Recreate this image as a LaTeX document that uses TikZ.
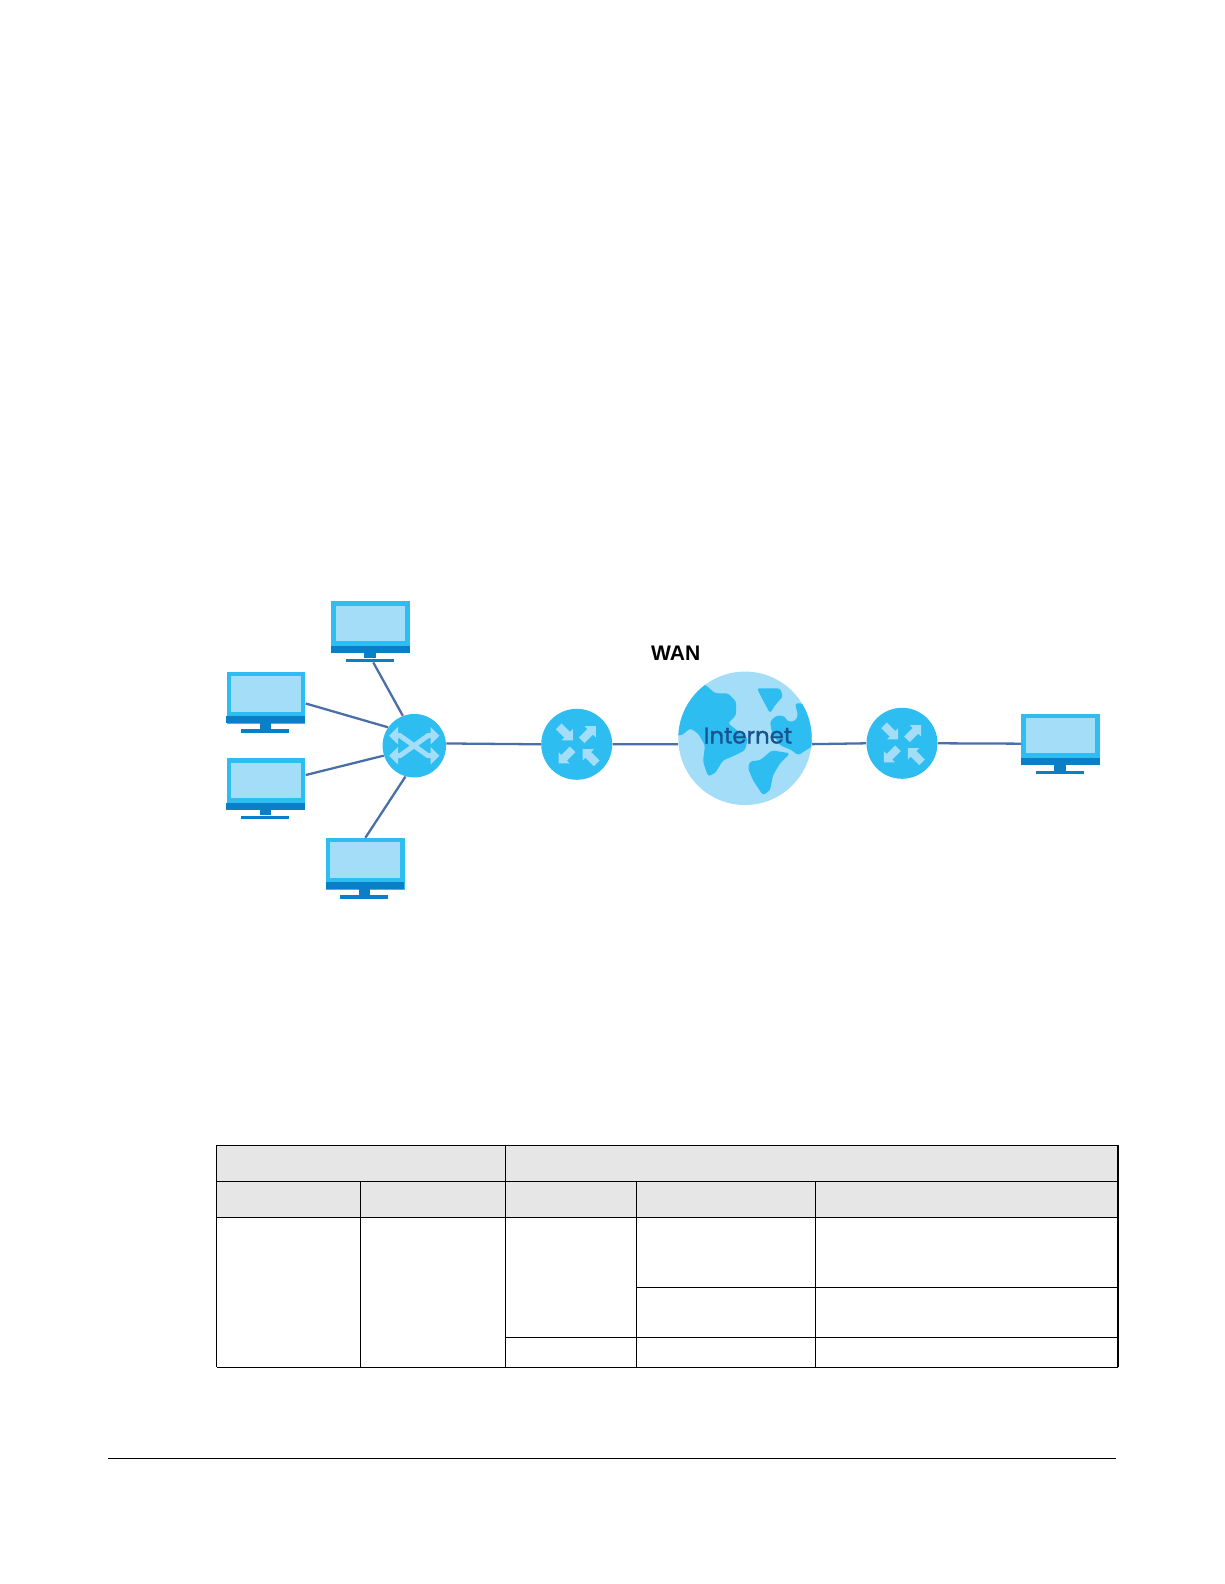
\documentclass[tikz,border=0pt]{standalone}
\usepackage{fontspec}
\usepackage{xcolor}
\usepackage{tikz}
\usetikzlibrary{arrows.meta}
\newfontfamily\wanfont{Liberation Sans}
\newfontfamily\netfont[FakeBold=1.2]{Poppins}
\definecolor{netbright}{HTML}{2DBDF1}
\definecolor{netpale}{HTML}{A4DDF8}
\definecolor{netdark}{HTML}{0A7FC8}
\definecolor{netline}{HTML}{4A6FA8}
\definecolor{nettext}{HTML}{17548F}
\definecolor{tblgray}{HTML}{E6E6E6}
\tikzset{
    net screen/.style={fill=netpale},
    net dark/.style={fill=netdark},
    net body/.style={
        fill=netbright,
        inner sep=0pt,
        minimum width=1.574cm,
        minimum height=1.034cm
    },
    net round/.style={
        circle,
        fill=netbright,
        inner sep=0pt
    },
    net link/.style={draw=netline, line width=1.3pt},
    net swarrow/.style={
        {Triangle[length=0.18cm,width=0.34cm]}-{Triangle[length=0.18cm,width=0.34cm]},
        draw=netpale,
        line width=0.1cm
    },
    tbl line/.style={draw=black, line width=0.6pt},
    monitor/.pic={
        \node[net body, anchor=north west] (-body) at (0,0) {};
        \fill[net screen] (4.7,4.7) rectangle (74.3,40);
        \fill[net dark] (0,44.7) rectangle (78.7,51.7);
        \fill[net dark] (33.3,51.7) rectangle (44.7,57.3);
        \node[fill=netdark, inner sep=0pt, minimum width=0.96cm, minimum height=0.068cm, anchor=north] (-foot) at (38.7,57.3) {};
    },
    router arrow/.pic={
        \fill[netpale] (0,-4) -- (12,-4) -- (12,-8) -- (20,0) -- (12,8) -- (12,4) -- (0,4) -- cycle;
    },
    router/.pic={
        \node[net round, minimum size=1.42cm] (-disc) at (0,0) {};
        \pic[rotate=-45] at (-18,-18) {router arrow};
        \pic[rotate=45] at (5,-4) {router arrow};
        \pic[rotate=-135] at (-4,5) {router arrow};
        \pic[rotate=135] at (20,19) {router arrow};
    }
}

\begin{document}
\begin{tikzpicture}[x=0.02cm, y=-0.02cm]
\useasboundingbox (0,0) rectangle (1224,1584);

% Hosts
\pic (m1) at (331,601) {monitor};
\pic (m2) at (226.3,671.7) {monitor};
\pic (m3) at (226.3,758) {monitor};
\pic (m4) at (325.7,837.7) {monitor};
\pic (m5) at (1021,713.3) {monitor};

% Switch
\node[net round, minimum size=1.27cm] (sw) at (414.3,745.7) {};
\draw[net swarrow] (389,735.7) -- (400,735.7) -- (428,755.7) -- (439.5,755.7);
\draw[net swarrow] (389,755.7) -- (400,755.7) -- (428,735.7) -- (439.5,735.7);

% Routers
\pic (r1) at (576.7,744.3) {router};
\pic (r2) at (902,743.3) {router};

% Internet
\node[net round, fill=netpale, minimum size=2.67cm] (glb) at (745,738.3) {};
\begin{scope}[shift={(745,738.3)}, rounded corners=1.5pt]
\clip (0,0) circle (66.7);
\fill[netbright] (-39,-53) -- (-30,-45) -- (-17,-45) -- (-9,-37) -- (-9,-23) -- (-17,-15) -- (-8,-8) -- (3,0) -- (0,12) -- (-12,18) -- (-22,22) -- (-30,35) -- (-37,38) -- (-42,23) -- (-40,7) -- (-47,-5) -- (-55,-10) -- (-63,-3) -- (-72,-3) -- (-72,-30) -- (-50,-60) -- cycle;
\fill[netbright] (12,-50) -- (35,-50) -- (38,-42) -- (30,-33) -- (25,-25) -- (18,-38) -- cycle;
\fill[netbright] (50,-35) -- (57,-35) -- (72,-20) -- (72,5) -- (53,17) -- (47,12) -- (35,7) -- (27,-5) -- (25,-17) -- (32,-23) -- (40,-22) -- (42,-17) -- (50,-17) -- (53,-23) -- cycle;
\fill[netbright] (27,12) -- (45,15) -- (35,25) -- (28,37) -- (25,52) -- (18,57) -- (8,42) -- (3,30) -- (5,23) -- (15,22) -- cycle;
\end{scope}
\node[font=\netfont\fontsize{13}{16}\selectfont, text=nettext, inner sep=0pt] (inet) at (748,735.7) {Internet};
\node[font=\wanfont\bfseries\fontsize{12}{14}\selectfont, inner sep=0pt] (wan) at (675.7,653.3) {WAN};

% Links
\draw[net link] (m1-foot.-30) -- (sw.111);
\draw[net link] (m2-body.-8) -- (sw.145);
\draw[net link] (m3-body.13) -- (sw.198);
\draw[net link] (m4-body.north) -- (sw.254);
\draw[net link] (sw.4) -- (r1-disc.west);
\draw[net link] (r1-disc.east) -- (glb.185);
\draw[net link] (glb.-5) -- (r2-disc.west);
\draw[net link] (r2-disc.east) -- (m5-body.186);

% Table
\fill[tblgray] (216.6,1145.3) rectangle (1118,1217.3);
\foreach \ya in {1145.3,1181.3,1217.3,1367.3}
    \draw[tbl line] (216.6,\ya) -- (1118,\ya);
\draw[tbl line] (636.5,1287.3) -- (1118,1287.3);
\draw[tbl line] (505.4,1337.3) -- (1118,1337.3);
\foreach \xa in {216.6,505.4,1118}
    \draw[tbl line] (\xa,1145.3) -- (\xa,1367.3);
\draw[draw=black, line width=0.4pt] (360,1181.3) -- (360,1367.3);
\draw[tbl line] (636.5,1181.3) -- (636.5,1367.3);
\draw[tbl line] (815.6,1181.3) -- (815.6,1367.3);

% Footer rule
\draw[tbl line] (108,1458.3) -- (1116,1458.3);
\end{tikzpicture}
\end{document}
